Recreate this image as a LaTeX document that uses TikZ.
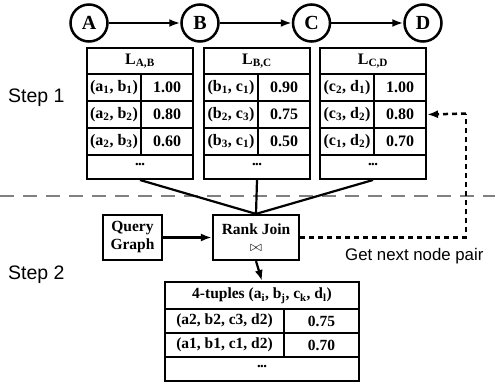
\documentclass[tikz,border=0pt]{standalone}
\usepackage{fontspec}
\setmainfont{Liberation Serif}
\newfontfamily\labelfont{Liberation Sans}
\usetikzlibrary{arrows.meta}

% one list L_{X,Y}: name, left x, header, then three rows (pair, score)
\newcommand\listtable[9]{%
  \node[cellbox, minimum width=106, minimum height=26] (#1h) at (#2,47) {#3};
  \node[cellbox, minimum width=54, minimum height=27] (#1a1) at (#2,73) {#4};
  \node[cellbox, minimum width=52, minimum height=27] (#1b1) at (#2+54,73) {#5};
  \node[cellbox, minimum width=54, minimum height=27] (#1a2) at (#2,100) {#6};
  \node[cellbox, minimum width=52, minimum height=27] (#1b2) at (#2+54,100) {#7};
  \node[cellbox, minimum width=54, minimum height=27] (#1a3) at (#2,127) {#8};
  \node[cellbox, minimum width=52, minimum height=27] (#1b3) at (#2+54,127) {#9};
  \node[cellbox, minimum width=106, minimum height=24] (#1d) at (#2,154) {\dotsrow};
}
\newcommand\dotsrow{\raisebox{0.5ex}{\fontsize{9}{9}\selectfont\textbf{•••}}}
\newcommand\sub[1]{\textsubscript{#1}}

\begin{document}
\begin{tikzpicture}[x=1pt,y=-1pt,
  cellbox/.style={draw, line width=2pt, inner sep=0pt, anchor=north west,
    font=\fontsize{16}{18}\selectfont\bfseries},
  rowbox/.style={cellbox, font=\fontsize{15.5}{18}\selectfont\bfseries},
  vertex/.style={draw, circle, line width=2.5pt, minimum size=37, inner sep=0pt,
    font=\fontsize{20}{20}\selectfont\bfseries},
  procbox/.style={draw, line width=2.2pt, inner sep=0pt, align=center,
    minimum height=45, font=\fontsize{15.5}{18}\selectfont\bfseries},
  link/.style={line width=2.2pt},
  tip/.style={-{Latex[length=11pt,width=8pt]}},
  dotline/.style={line width=2.5pt, dash pattern=on 5pt off 4pt},
  steplabel/.style={font=\labelfont\fontsize{19.5}{20}\selectfont, anchor=west, inner sep=0pt},
]
\useasboundingbox (0,0) rectangle (495,388);

% query graph
\node[vertex] (A) at (89,23) {A};
\node[vertex] (B) at (200,23) {B};
\node[vertex] (C) at (311.5,23) {C};
\node[vertex] (D) at (423,23) {D};
\draw[link, tip] (A) -- (B);
\draw[link, tip] (B) -- (C);
\draw[link, tip] (C) -- (D);

% ranked edge lists
\listtable{ab}{86}{L\sub{A,B}}{(a\sub{1}, b\sub{1})}{1.00}{(a\sub{2}, b\sub{2})}{0.80}{(a\sub{2}, b\sub{3})}{0.60}
\listtable{bc}{203}{L\sub{B,C}}{(b\sub{1}, c\sub{1})}{0.90}{(b\sub{2}, c\sub{3})}{0.75}{(b\sub{3}, c\sub{1})}{0.50}
\listtable{cd}{319}{L\sub{C,D}}{(c\sub{2}, d\sub{1})}{1.00}{(c\sub{3}, d\sub{2})}{0.80}{(c\sub{1}, d\sub{2})}{0.70}

% separator between the two steps
\draw[gray, line width=1.4pt, dash pattern=on 14pt off 9pt] (0,196) -- (495,196);

\node[steplabel] (s1) at (8,98) {Step 1};
\node[steplabel] (s2) at (8,275) {Step 2};

% join operator
\node[procbox, minimum width=59] (qg) at (132.5,237.5) {Query\\Graph};
\node[procbox, minimum width=86] (rj) at (256,237.5) {Rank Join\\[-1pt]{\normalfont\fontsize{15}{15}\selectfont$\bowtie$}};
\draw[link, tip] (qg) -- (rj);
\draw[link] (abd.south) -- (rj.north);
\draw[link] (bcd.south) -- (rj.north);
\draw[link] (cdd.south) -- (rj.north);

% feedback loop
\coordinate (loop) at (466,113.5);
\draw[dotline] (rj.east) -| (loop);
\draw[dotline, tip] (loop) -- (cdb2.east);
\node[font=\labelfont\fontsize{16.8}{18}\selectfont, anchor=west, inner sep=0pt] (gn) at (345,256) {Get next node pair};

% result table
\node[rowbox, minimum width=194, minimum height=27] (th) at (164,281) {4-tuples (a\sub{i}, b\sub{j}, c\sub{k}, d\sub{l})};
\node[rowbox, minimum width=119, minimum height=24] (t1a) at (164,308) {(a2, b2, c3, d2)};
\node[rowbox, minimum width=75, minimum height=24] (t1b) at (283,308) {0.75};
\node[rowbox, minimum width=119, minimum height=24] (t2a) at (164,332) {(a1, b1, c1, d2)};
\node[rowbox, minimum width=75, minimum height=24] (t2b) at (283,332) {0.70};
\node[rowbox, minimum width=194, minimum height=24] (td) at (164,356) {\dotsrow};
\draw[link, tip] (rj.south) -- (th.north);
\end{tikzpicture}
\end{document}
